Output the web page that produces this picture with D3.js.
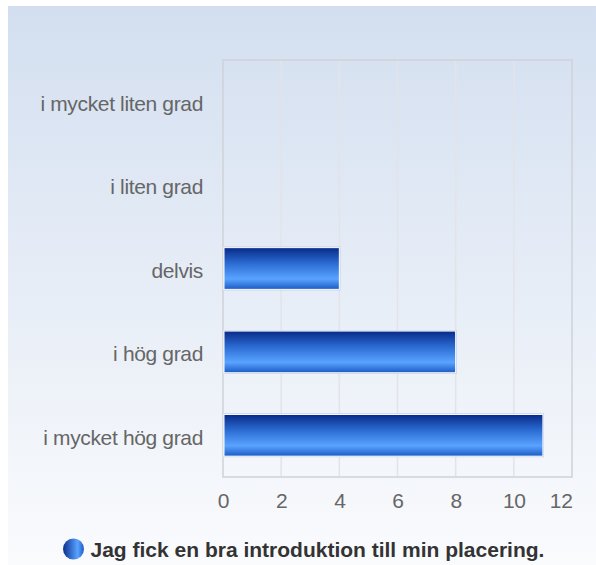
<!DOCTYPE html>
<html>
<head>
<meta charset="utf-8">
<title>Jag fick en bra introduktion till min placering.</title>
<script src="https://d3js.org/d3.v7.min.js"></script>
<style>
body { margin: 0; background: #fff; }
svg text { font-family: "Liberation Sans", Arial, sans-serif; }
.axis text { font-size: 21px; fill: #666; letter-spacing: -0.35px; }
.axis path, .axis line { display: none; }
.grid line { stroke: #e2e4e8; stroke-width: 1.5px; }
</style>
</head>
<body>
<div id="chart"></div>
<script>
// data
var categories = ["i mycket liten grad", "i liten grad", "delvis", "i hög grad", "i mycket hög grad"];
var values = [0, 0, 4, 8, 11];
var xTicks = [0, 2, 4, 6, 8, 10, 12];
var seriesName = "Jag fick en bra introduktion till min placering.";

var W = 596, H = 565;
var plot = { left: 223, right: 572, top: 60, bottom: 477 };

var svg = d3.select("#chart").append("svg")
  .attr("width", W)
  .attr("height", H);

var defs = svg.append("defs");

var bg = defs.append("linearGradient").attr("id", "bg")
  .attr("x1", 0).attr("y1", 0).attr("x2", 0).attr("y2", 1);
bg.append("stop").attr("offset", "0%").attr("stop-color", "#d3dff0");
bg.append("stop").attr("offset", "100%").attr("stop-color", "#fafbfd");

var barGrad = defs.append("linearGradient").attr("id", "bar")
  .attr("x1", 0).attr("y1", 0).attr("x2", 0).attr("y2", 1);
barGrad.append("stop").attr("offset", "0%").attr("stop-color", "#082a88");
barGrad.append("stop").attr("offset", "40%").attr("stop-color", "#2d6fd6");
barGrad.append("stop").attr("offset", "75%").attr("stop-color", "#5aa3ff");
barGrad.append("stop").attr("offset", "100%").attr("stop-color", "#1a5bc4");

var dotGrad = defs.append("linearGradient").attr("id", "dot")
  .attr("x1", 0).attr("y1", 0).attr("x2", 1).attr("y2", 0);
dotGrad.append("stop").attr("offset", "0%").attr("stop-color", "#0a2f90");
dotGrad.append("stop").attr("offset", "70%").attr("stop-color", "#5aa3ff");
dotGrad.append("stop").attr("offset", "100%").attr("stop-color", "#1a5bc4");

// panel background
svg.append("rect")
  .attr("x", 8).attr("y", 6)
  .attr("width", W - 8).attr("height", H - 6)
  .attr("fill", "url(#bg)");

var x = d3.scaleLinear()
  .domain([0, 12])
  .range([plot.left, plot.right]);

var y = d3.scaleBand()
  .domain(categories)
  .range([plot.top, plot.bottom])
  .paddingInner(0.5)
  .paddingOuter(0.25);

// grid
svg.append("g")
  .attr("class", "grid")
  .selectAll("line")
  .data(xTicks.slice(1, -1))
  .enter().append("line")
    .attr("x1", function(d) { return x(d); })
    .attr("x2", function(d) { return x(d); })
    .attr("y1", plot.top)
    .attr("y2", plot.bottom);

// plot border
svg.append("rect")
  .attr("x", plot.left).attr("y", plot.top)
  .attr("width", plot.right - plot.left)
  .attr("height", plot.bottom - plot.top)
  .attr("fill", "none")
  .attr("stroke", "#cfd2d8")
  .attr("stroke-width", 1.5);

// bars
var bars = svg.append("g").selectAll("g.bar")
  .data(categories.map(function(c, i) { return { cat: c, v: values[i] }; }).filter(function(d) { return d.v > 0; }))
  .enter().append("g").attr("class", "bar");

bars.append("rect")
  .attr("x", x(0) + 1)
  .attr("y", function(d) { return y(d.cat) - 1; })
  .attr("width", function(d) { return x(d.v) - x(0); })
  .attr("height", y.bandwidth() + 2)
  .attr("fill", "#b8c6e6");

bars.append("rect")
  .attr("x", x(0) + 1)
  .attr("y", function(d) { return y(d.cat); })
  .attr("width", function(d) { return x(d.v) - x(0) - 1; })
  .attr("height", y.bandwidth())
  .attr("fill", "url(#bar)")
  .attr("stroke", "#ffffff")
  .attr("stroke-width", 1);

// axes
var xAxisG = svg.append("g")
  .attr("class", "axis")
  .attr("transform", "translate(0," + plot.bottom + ")")
  .call(d3.axisBottom(x).tickValues(xTicks).tickSize(0).tickPadding(16));

// last tick label sits inside the plot edge
xAxisG.selectAll(".tick text")
  .filter(function(d) { return d === xTicks[xTicks.length - 1]; })
  .attr("text-anchor", "end");

svg.append("g")
  .attr("class", "axis")
  .attr("transform", "translate(" + plot.left + ",0)")
  .call(d3.axisLeft(y).tickSize(0).tickPadding(20))
  .selectAll("text")
    .attr("dy", "0.44em");

// legend
var legend = svg.append("g").attr("transform", "translate(73.5,549)");
legend.append("circle")
  .attr("r", 10.5)
  .attr("fill", "url(#dot)");
legend.append("text")
  .attr("x", 17)
  .attr("dy", "0.36em")
  .style("font-size", "21px")
  .style("font-weight", "bold")
  .style("fill", "#333")
  .text(seriesName);
</script>
</body>
</html>
